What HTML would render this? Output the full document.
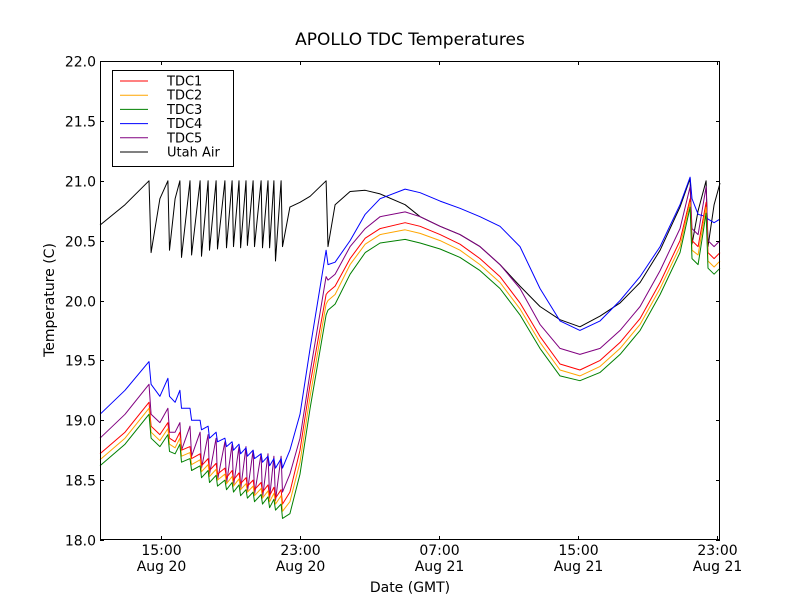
<!DOCTYPE html>
<html><head><meta charset="utf-8"><style>
body{margin:0;background:#fff;font-family:"Liberation Sans","DejaVu Sans",sans-serif}
</style></head><body>
<svg id="chart" width="800" height="600" xmlns="http://www.w3.org/2000/svg" font-family="'DejaVu Sans','Liberation Sans',sans-serif">
<rect width="800" height="600" fill="#fff"/>
<text x="410" y="45" font-size="17" text-anchor="middle">APOLLO TDC Temperatures</text>
<text x="410" y="592" font-size="14" text-anchor="middle">Date (GMT)</text>
<text transform="translate(54,300) rotate(-90)" font-size="14" text-anchor="middle">Temperature (C)</text>
<g id="series"></g>
<g id="axes"></g>
<g>
<rect x="112.5" y="70.5" width="121" height="96" fill="#fff" stroke="#000"/>
<g id="legend"></g>
</g>
</svg>
<script>
const times=[11.50,12.94,14.32,14.44,14.95,15.41,15.50,15.82,16.10,16.19,16.68,16.77,17.26,17.34,17.72,17.80,18.18,18.26,18.69,18.78,19.10,19.18,19.50,19.59,19.90,19.98,20.31,20.39,20.77,20.85,21.17,21.26,21.51,21.60,21.92,22.00,22.43,23.01,23.59,24.51,24.62,25.03,25.89,26.76,27.62,29.06,29.92,31.07,32.22,33.37,34.52,35.67,36.82,37.97,39.12,40.28,41.43,42.58,43.73,44.88,45.46,45.57,45.92,46.38,46.49,46.84,47.18];
const utahAir=[20.63,20.8,21.0,20.4,20.85,21.0,20.42,20.85,21.0,20.36,21.0,20.38,21.0,20.37,21.0,20.42,21.0,20.43,21.0,20.44,21.0,20.45,21.0,20.44,21.0,20.46,21.0,20.45,21.0,20.44,21.0,20.44,21.0,20.33,21.0,20.45,20.78,20.82,20.87,21.0,20.45,20.8,20.91,20.92,20.89,20.8,20.7,20.62,20.55,20.45,20.3,20.12,19.95,19.84,19.78,19.87,19.98,20.15,20.42,20.78,21.02,20.47,20.75,21.0,20.45,20.8,20.98];
const tdc4=[19.05,19.25,19.49,19.3,19.2,19.35,19.2,19.15,19.25,19.1,19.1,19.0,19.0,18.92,18.95,18.85,18.9,18.82,18.85,18.78,18.82,18.75,18.8,18.72,18.77,18.7,18.75,18.68,18.72,18.65,18.7,18.62,18.68,18.6,18.68,18.6,18.75,19.05,19.6,20.42,20.3,20.32,20.5,20.72,20.85,20.93,20.9,20.83,20.77,20.7,20.62,20.45,20.1,19.83,19.75,19.83,20.0,20.2,20.45,20.8,21.03,20.85,20.72,20.7,20.68,20.65,20.68];
const tdc5=[18.85,19.05,19.3,19.05,18.98,19.1,18.9,18.9,18.98,18.75,18.95,18.7,18.9,18.6,18.88,18.55,18.85,18.5,18.82,18.47,18.8,18.45,18.78,18.42,18.78,18.4,18.75,18.38,18.72,18.35,18.72,18.35,18.7,18.33,18.7,18.4,18.55,18.85,19.4,20.2,20.17,20.22,20.45,20.6,20.7,20.74,20.7,20.62,20.55,20.45,20.3,20.1,19.8,19.6,19.55,19.6,19.75,19.95,20.25,20.6,20.95,20.6,20.55,20.95,20.5,20.45,20.5];
const tdc1=[18.72,18.9,19.15,18.95,18.88,18.98,18.85,18.82,18.9,18.75,18.78,18.68,18.72,18.62,18.68,18.58,18.64,18.55,18.6,18.52,18.58,18.5,18.56,18.47,18.52,18.45,18.5,18.42,18.48,18.4,18.46,18.37,18.44,18.35,18.42,18.3,18.4,18.75,19.3,20.05,20.07,20.12,20.35,20.52,20.6,20.65,20.62,20.55,20.47,20.35,20.2,19.98,19.7,19.47,19.42,19.5,19.65,19.85,20.15,20.5,20.85,20.5,20.45,20.82,20.4,20.35,20.4];
const tdc2=[18.67,18.85,19.1,18.9,18.83,18.93,18.8,18.77,18.85,18.7,18.73,18.63,18.67,18.57,18.63,18.53,18.59,18.5,18.55,18.47,18.53,18.45,18.51,18.42,18.47,18.4,18.45,18.37,18.43,18.35,18.41,18.32,18.39,18.3,18.37,18.24,18.32,18.65,19.2,19.97,20.0,20.05,20.3,20.47,20.55,20.59,20.56,20.5,20.42,20.3,20.15,19.93,19.65,19.42,19.37,19.45,19.6,19.8,20.1,20.45,20.82,20.42,20.38,20.78,20.33,20.28,20.33];
const tdc3=[18.62,18.8,19.05,18.85,18.78,18.88,18.74,18.72,18.8,18.65,18.68,18.58,18.62,18.52,18.58,18.48,18.54,18.45,18.5,18.42,18.48,18.4,18.46,18.37,18.42,18.35,18.4,18.32,18.38,18.3,18.36,18.27,18.34,18.25,18.3,18.18,18.22,18.55,19.1,19.88,19.92,19.97,20.22,20.4,20.48,20.51,20.48,20.43,20.36,20.25,20.1,19.88,19.6,19.37,19.33,19.4,19.55,19.75,20.05,20.4,20.78,20.35,20.3,20.73,20.27,20.22,20.27];
const yTicks=[18.0,18.5,19.0,19.5,20.0,20.5,21.0,21.5,22.0];
const xTicks=[15,23,31,39,47];
const xTickTimes=["15:00","23:00","07:00","15:00","23:00"];
const xTickDates=["Aug 20","Aug 20","Aug 21","Aug 21","Aug 21"];
const seriesNames=["TDC1","TDC2","TDC3","TDC4","TDC5","Utah Air"];
const seriesColors=["#ff0000","#ffa500","#008000","#0000ff","#800080","#000000"];
const seriesData=[tdc1,tdc2,tdc3,tdc4,tdc5,utahAir];
const L=100,R=720,T=61,B=540,H0=11.5,H1=47.18,V0=18,V1=22;
const xs=h=>L+(h-H0)/(H1-H0)*(R-L);
const ys=v=>B-(v-V0)/(V1-V0)*(B-T);
const NS="http://www.w3.org/2000/svg";
function mk(tag,attrs,parent){const e=document.createElementNS(NS,tag);for(const k in attrs)e.setAttribute(k,attrs[k]);parent.appendChild(e);return e;}
const sg=document.getElementById('series');
const order=[5,4,3,0,1,2];
order.forEach(i=>{
  const d=seriesData[i].map((v,j)=>(j?'L':'M')+xs(times[j]).toFixed(1)+','+ys(v).toFixed(1)).join('');
  const p=mk('path',{d:d,fill:'none',stroke:seriesColors[i],'stroke-width':1,'stroke-linejoin':'round'},sg);
  
  
});
const ax=document.getElementById('axes');
const fr=mk('rect',{x:L+.5,y:T+.5,width:R-L-1,height:B-T-1,fill:'none',stroke:'#000'},ax);


yTicks.forEach(v=>{
  const y=Math.round(ys(v))+.5;
  mk('line',{x1:L,x2:L+4,y1:y,y2:y,stroke:'#000'},ax);
  mk('line',{x1:R-4,x2:R,y1:y,y2:y,stroke:'#000'},ax);
  const t=mk('text',{x:L-4,y:y+5,'font-size':14,'text-anchor':'end'},ax);
  t.textContent=v.toFixed(1);
  
  
});
xTicks.forEach((h,i)=>{
  const x=Math.round(xs(h))+.5;
  mk('line',{x1:x,x2:x,y1:B,y2:B-4,stroke:'#000'},ax);
  mk('line',{x1:x,x2:x,y1:T,y2:T+4,stroke:'#000'},ax);
  const t=mk('text',{x:x,y:555,'font-size':14,'text-anchor':'middle'},ax);
  t.textContent=xTickTimes[i];
  
  
  const t2=mk('text',{x:x,y:571,'font-size':14,'text-anchor':'middle'},ax);
  t2.textContent=xTickDates[i];
  
  
});
const lg=document.getElementById('legend');
seriesNames.forEach((n,i)=>{
  const y=81+i*14.2;
  const ln=mk('line',{x1:120,x2:148,y1:y,y2:y,stroke:seriesColors[i]},lg);
  
  
  const t=mk('text',{x:167,y:y+4.5,'font-size':13},lg);
  t.textContent=n;
  
  
});
</script>
</body></html>
